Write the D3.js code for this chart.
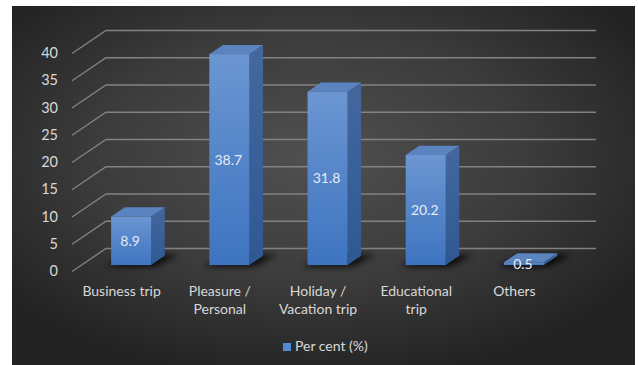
<!DOCTYPE html>
<html>
<head>
<meta charset="utf-8">
<script src="https://cdn.jsdelivr.net/npm/d3@7"></script>
<style>
  html, body { margin: 0; padding: 0; background: #ffffff; }
  svg { display: block; }
  text { font-family: Lato, "Open Sans", sans-serif; }
</style>
</head>
<body>
<svg id="chart" width="638" height="365"></svg>
<script>
// Purpose of trip (per cent of respondents)
const categories = ["Business trip", "Pleasure / Personal", "Holiday / Vacation trip", "Educational trip", "Others"];
const categoryLines = [["Business trip"], ["Pleasure /", "Personal"], ["Holiday /", "Vacation trip"], ["Educational", "trip"], ["Others"]];
const values = [8.9, 38.7, 31.8, 20.2, 0.5];
const yTicks = [0, 5, 10, 15, 20, 25, 30, 35, 40];
const seriesName = "Per cent (%)";

const svg = d3.select("#chart");
const W = 638, H = 365;

// panel frame
const panel = { x: 12, y: 6, w: 623, h: 359 };

const defs = svg.append("defs");
const bg = defs.append("radialGradient").attr("id", "bgGrad")
  .attr("cx", "48%").attr("cy", "42%").attr("r", "62%");
bg.append("stop").attr("offset", "0%").attr("stop-color", "#505050");
bg.append("stop").attr("offset", "55%").attr("stop-color", "#3c3c3c");
bg.append("stop").attr("offset", "100%").attr("stop-color", "#232323");

const frontGrad = defs.append("linearGradient").attr("id", "frontGrad")
  .attr("x1", 0).attr("y1", 0).attr("x2", 0).attr("y2", 1);
frontGrad.append("stop").attr("offset", "0%").attr("stop-color", "#6b96d2");
frontGrad.append("stop").attr("offset", "100%").attr("stop-color", "#3e74c0");

const sideGrad = defs.append("linearGradient").attr("id", "sideGrad")
  .attr("x1", 0).attr("y1", 0).attr("x2", 0).attr("y2", 1);
sideGrad.append("stop").attr("offset", "0%").attr("stop-color", "#44689e");
sideGrad.append("stop").attr("offset", "100%").attr("stop-color", "#2f5893");

const blur = defs.append("filter").attr("id", "shadowBlur")
  .attr("x", "-50%").attr("y", "-100%").attr("width", "200%").attr("height", "300%");
blur.append("feGaussianBlur").attr("stdDeviation", 3);

svg.append("rect")
  .attr("x", panel.x).attr("y", panel.y)
  .attr("width", panel.w).attr("height", panel.h)
  .attr("fill", "url(#bgGrad)");

// 3D projection: depth z in [0,1] shifts right and up
const depth = { dx: 34, dy: -23 };
const proj = z => ({ dx: depth.dx * z, dy: depth.dy * z });

// front plane scales
const y = d3.scaleLinear().domain([0, 40]).range([271.5, 53.5]);
const x = d3.scaleBand().domain(categories).range([72.5, 563.5]).padding(0);

const wallRight = 596;
const back = proj(1);
const frontLeft = 72;

// gridlines: diagonal on the side wall, horizontal on the back wall
const grid = svg.append("g").attr("stroke", "#828282").attr("stroke-width", 1.4).attr("fill", "none");
yTicks.forEach(t => {
  const yf = y(t);
  grid.append("path")
    .attr("d", `M${frontLeft},${yf} L${frontLeft + back.dx},${yf + back.dy} L${wallRight},${yf + back.dy}`);
});

// y-axis labels
svg.append("g").selectAll("text").data(yTicks).join("text")
  .attr("x", 58).attr("y", d => y(d) + 1)
  .attr("text-anchor", "end").attr("dominant-baseline", "middle")
  .attr("fill", "#d9d9d9").attr("font-size", 14.5)
  .text(d => d);

// bars
const barW = 40;
const zFront = 0.28, zBack = 0.68;
const pf = proj(zFront), pb = proj(zBack);
const bdx = pb.dx - pf.dx, bdy = pb.dy - pf.dy;

const bars = svg.append("g");
categories.forEach((c, i) => {
  const v = values[i];
  const cx = x(c) + x.bandwidth() / 2 + pf.dx;
  const x0 = cx - barW / 2, x1 = cx + barW / 2;
  const yb = y(0) + pf.dy, yt = y(v) + pf.dy;
  const g = bars.append("g");
  // floor shadow
  g.append("path")
    .attr("d", `M${x0 - 6},${yb + 1.5} L${x1 + 4},${yb + 1.5} L${x1 + bdx + 14},${yb + bdy - 1} L${x0 + bdx + 4},${yb + bdy}Z`)
    .attr("fill", "#000").attr("opacity", 0.85).attr("filter", "url(#shadowBlur)");
  // side face
  g.append("path")
    .attr("d", `M${x1},${yt} L${x1 + bdx},${yt + bdy} L${x1 + bdx},${yb + bdy} L${x1},${yb}Z`)
    .attr("fill", "url(#sideGrad)");
  // top face
  g.append("path")
    .attr("d", `M${x0},${yt} L${x1},${yt} L${x1 + bdx},${yt + bdy} L${x0 + bdx},${yt + bdy}Z`)
    .attr("fill", "#5a83bf");
  // front face
  g.append("rect")
    .attr("x", x0).attr("y", yt).attr("width", barW).attr("height", Math.max(0, yb - yt))
    .attr("fill", "url(#frontGrad)");
  // value label
  g.append("text")
    .attr("x", cx - 1).attr("y", (yt + yb) / 2 + 1.5)
    .attr("text-anchor", "middle").attr("dominant-baseline", "middle")
    .attr("fill", "#e4ebf5").attr("font-size", 14)
    .text(d3.format(".1f")(v));
});

// category labels
const catG = svg.append("g");
categories.forEach((c, i) => {
  const cx = x(c) + x.bandwidth() / 2;
  const t = catG.append("text")
    .attr("x", cx).attr("y", 296)
    .attr("text-anchor", "middle")
    .attr("fill", "#d9d9d9").attr("font-size", 14);
  categoryLines[i].forEach((line, j) => {
    t.append("tspan").attr("x", cx).attr("dy", j === 0 ? 0 : 18).text(line);
  });
});

// legend
const lg = svg.append("g");
lg.append("rect").attr("x", 283).attr("y", 343).attr("width", 8).attr("height", 8).attr("fill", "#5389d4");
lg.append("text").attr("x", 295).attr("y", 351)
  .attr("fill", "#d9d9d9").attr("font-size", 14).text(seriesName);
</script>
</body>
</html>
